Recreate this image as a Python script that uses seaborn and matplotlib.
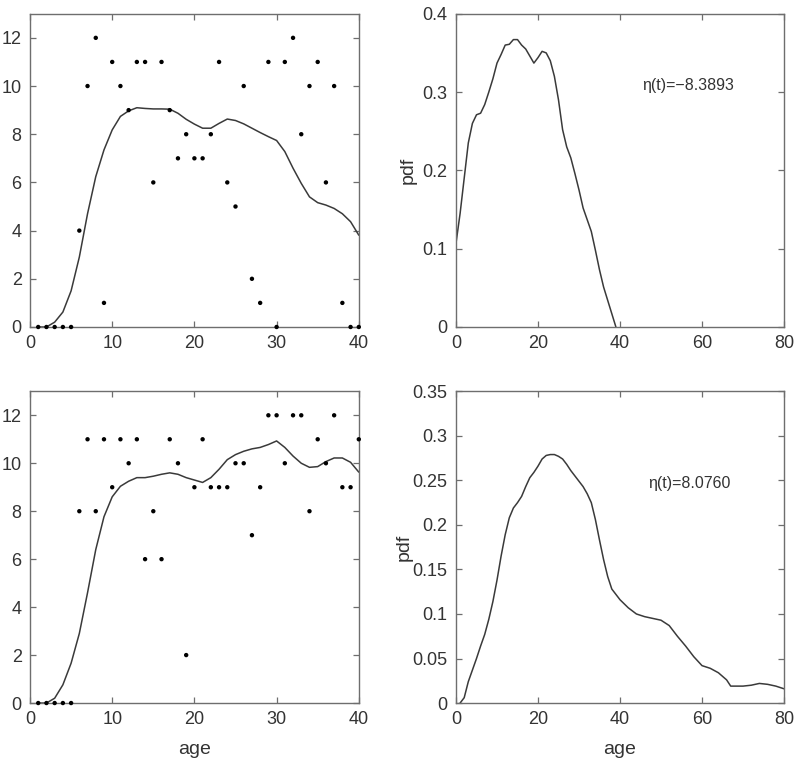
import numpy as np
import pandas as pd
import matplotlib
matplotlib.use("Agg")
import matplotlib.pyplot as plt
import seaborn as sns

# ---- data ----
age_pts = list(range(1, 41))
top_counts = [0, 0, 0, 0, 0, 4, 10, 12, 1, 11, 10, 9, 11, 11, 6, 11, 9, 7, 8, 7,
              7, 8, 11, 6, 5, 10, 2, 1, 11, 0, 11, 12, 8, 10, 11, 6, 10, 1, 0, 0]
bot_counts = [0, 0, 0, 0, 0, 8, 11, 8, 11, 9, 11, 10, 11, 6, 8, 6, 11, 10, 2, 9,
              11, 9, 9, 9, 10, 10, 7, 9, 12, 12, 10, 12, 12, 8, 11, 10, 12, 9, 9, 11]

curve_x = list(range(1, 41))
top_curve = [0.0, 0.0, 0.2, 0.62, 1.5, 2.9, 4.7, 6.24, 7.35, 8.18, 8.74, 8.97, 9.1, 9.07,
             9.05, 9.05, 9.04, 8.87, 8.62, 8.42, 8.25, 8.25, 8.45, 8.63, 8.57, 8.43, 8.25,
             8.07, 7.9, 7.74, 7.28, 6.59, 5.96, 5.4, 5.16, 5.06, 4.92, 4.7, 4.37, 3.81]
bot_curve = [0.0, 0.0, 0.2, 0.76, 1.66, 2.9, 4.6, 6.4, 7.77, 8.6, 9.04, 9.25, 9.4, 9.4,
             9.46, 9.54, 9.6, 9.54, 9.4, 9.3, 9.2, 9.4, 9.75, 10.15, 10.36, 10.5, 10.6,
             10.66, 10.78, 10.93, 10.66, 10.3, 10.0, 9.83, 9.86, 10.07, 10.22, 10.22,
             10.04, 9.63]

pdf1_x = list(range(0, 40))
pdf1_y = [0.107, 0.145, 0.19, 0.235, 0.26, 0.271, 0.273, 0.284, 0.30, 0.317, 0.337, 0.348,
          0.36, 0.361, 0.367, 0.367, 0.36, 0.355, 0.346, 0.337, 0.344, 0.352, 0.35, 0.34,
          0.32, 0.29, 0.252, 0.23, 0.216, 0.196, 0.175, 0.152, 0.137, 0.122, 0.098, 0.073,
          0.051, 0.034, 0.017, 0.0]

pdf2_x = [1, 2, 3, 4, 5, 6, 7, 8, 9, 10, 11, 12, 13, 14, 15, 16, 17, 18, 19, 20, 21, 22,
          23, 24, 25, 26, 27, 28, 29, 30, 31, 32, 33, 34, 35, 36, 37, 38, 39, 40, 42, 44,
          46, 48, 50, 52, 54, 56, 58, 60, 62, 64, 66, 67, 70, 72, 74, 76, 78, 80]
pdf2_y = [0.0, 0.006, 0.024, 0.037, 0.05, 0.064, 0.077, 0.094, 0.114, 0.138, 0.165, 0.189,
          0.208, 0.219, 0.225, 0.232, 0.243, 0.253, 0.259, 0.266, 0.274, 0.278, 0.279,
          0.279, 0.277, 0.274, 0.268, 0.261, 0.255, 0.249, 0.243, 0.235, 0.225, 0.206,
          0.183, 0.161, 0.142, 0.128, 0.122, 0.116, 0.107, 0.10, 0.097, 0.095, 0.093,
          0.087, 0.075, 0.064, 0.052, 0.042, 0.039, 0.034, 0.026, 0.019, 0.019, 0.02,
          0.022, 0.021, 0.019, 0.016]

eta_top = "η(t)=−8.3893"
eta_bot = "η(t)=8.0760"

# ---- style ----
sns.set_theme(style="ticks")
plt.rcParams['font.family'] = ['Liberation Sans', 'DejaVu Sans']

fig = plt.figure(figsize=(8.0, 7.64), dpi=100)
ax_tl = fig.add_axes([0.0375, 0.572, 0.411, 0.41])
ax_tr = fig.add_axes([0.570, 0.572, 0.41, 0.41])
ax_bl = fig.add_axes([0.0375, 0.0798, 0.411, 0.408])
ax_br = fig.add_axes([0.570, 0.0798, 0.41, 0.408])

line_col = '#3a3a3a'
txt_col = '#333333'
edge_col = '#6e6e6e'

def style(ax):
    ax.tick_params(direction='in', top=True, right=True, length=4.5, width=0.9,
                   color=edge_col, labelcolor=txt_col, labelsize=13, pad=6)
    for s in ax.spines.values():
        s.set_visible(True)
        s.set_color(edge_col)
        s.set_linewidth(1.0)

# left panels
for ax, cnt, cur in [(ax_tl, top_counts, top_curve), (ax_bl, bot_counts, bot_curve)]:
    df_p = pd.DataFrame({'age': age_pts, 'count': cnt})
    df_c = pd.DataFrame({'age': curve_x, 'fit': cur})
    sns.lineplot(data=df_c, x='age', y='fit', ax=ax, color=line_col, linewidth=1.1)
    sns.scatterplot(data=df_p, x='age', y='count', ax=ax, color='black', s=10,
                    edgecolor='none', zorder=3, clip_on=False)
    ax.set_xlim(0, 40)
    ax.set_ylim(0, 13)
    ax.set_xticks([0, 10, 20, 30, 40])
    ax.set_yticks([0, 2, 4, 6, 8, 10, 12])
    ax.set_xlabel('')
    ax.set_ylabel('')
    style(ax)

# right panels
df1 = pd.DataFrame({'age': pdf1_x, 'pdf': pdf1_y})
sns.lineplot(data=df1, x='age', y='pdf', ax=ax_tr, color=line_col, linewidth=1.1)
ax_tr.set_xlim(0, 80)
ax_tr.set_ylim(0, 0.4)
ax_tr.set_xticks([0, 20, 40, 60, 80])
ax_tr.set_yticks([0, 0.1, 0.2, 0.3, 0.4])
ax_tr.set_yticklabels(['0', '0.1', '0.2', '0.3', '0.4'])
ax_tr.text(45.3, 0.308, eta_top, fontsize=11.5, color=txt_col, va='center', ha='left')

df2 = pd.DataFrame({'age': pdf2_x, 'pdf': pdf2_y})
sns.lineplot(data=df2, x='age', y='pdf', ax=ax_br, color=line_col, linewidth=1.1)
ax_br.set_xlim(0, 80)
ax_br.set_ylim(0, 0.35)
ax_br.set_xticks([0, 20, 40, 60, 80])
ax_br.set_yticks([0, 0.05, 0.1, 0.15, 0.2, 0.25, 0.3, 0.35])
ax_br.set_yticklabels(['0', '0.05', '0.1', '0.15', '0.2', '0.25', '0.3', '0.35'])
ax_br.text(46.9, 0.247, eta_bot, fontsize=11.5, color=txt_col, va='center', ha='left')

for ax in (ax_tr, ax_br):
    ax.set_xlabel('')
    style(ax)

ax_tr.set_ylabel('pdf', fontsize=14, color=txt_col, labelpad=4)
ax_br.set_ylabel('pdf', fontsize=14, color=txt_col, labelpad=0)

for ax in (ax_bl, ax_br):
    ax.set_xlabel('age', fontsize=14, color=txt_col, labelpad=9)

fig.savefig('out.png', dpi=100, facecolor='white')
